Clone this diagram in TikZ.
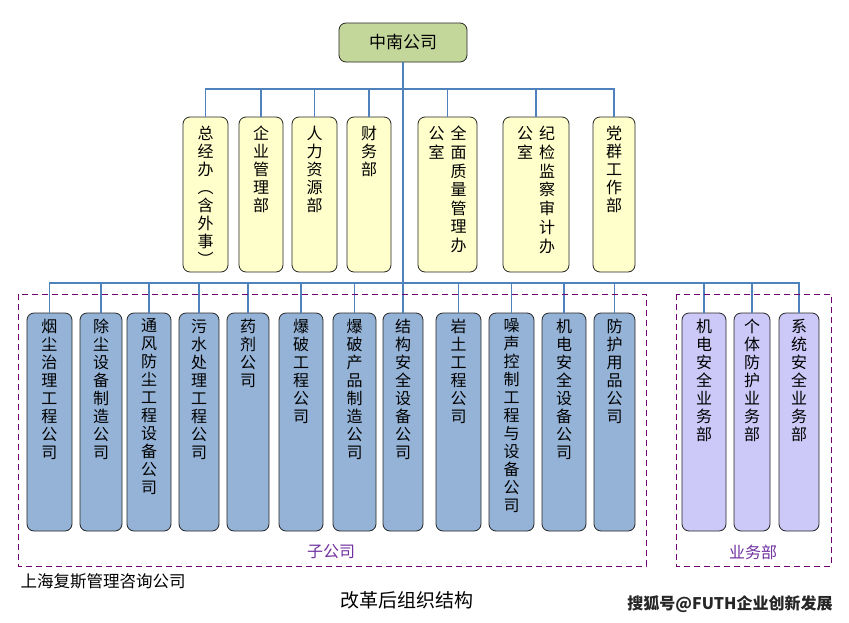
\documentclass[tikz,border=0pt]{standalone}
\usepackage{fontspec}
\newfontfamily\zhfont{Noto Sans CJK SC}
\definecolor{topgreen}{RGB}{196,215,155}
\definecolor{deptyellow}{RGB}{255,255,204}
\definecolor{subblue}{RGB}{149,179,215}
\definecolor{bizlilac}{RGB}{204,200,248}
\definecolor{linkblue}{RGB}{79,129,189}
\definecolor{grouppurple}{RGB}{112,0,112}
\definecolor{labelpurple}{RGB}{112,48,160}

\begin{document}
\begin{tikzpicture}[x = 1pt, y = -1pt, font = \zhfont,
    box/.style = {draw = black!85, line width = 0.8pt, rounded corners = 7pt, inner sep = 0pt},
    dept/.style = {box, fill = deptyellow, minimum height = 155pt},
    sub/.style = {box, fill = subblue, minimum height = 218pt},
    biz/.style = {box, fill = bizlilac, minimum height = 218pt},
    vtext/.style = {anchor = north, inner sep = 0pt, align = center, font = \zhfont\fontsize{16}{18}\selectfont},
    link/.style = {draw = linkblue, line width = 1.2pt},
    group/.style = {draw = grouppurple, line width = 0.9pt, dash pattern = on 6pt off 4pt}]
        \useasboundingbox[fill = white] (0, 0) rectangle (849, 622);

        % top
        \node[box, fill = topgreen, minimum width = 128pt, minimum height = 39pt, font = \zhfont\fontsize{17}{20}\selectfont] (zn) at (403, 42.5) {中南公司};
        \coordinate (tbus) at (403, 89);
        \coordinate (bbus) at (403, 283);

        % departments
        \node[dept, minimum width = 45pt, label = {[vtext, yshift = -9pt]north:总\\经\\办\\︵\\含\\外\\事\\︶}] (d1) at (205.5, 194.5) {};
        \node[dept, minimum width = 44pt, label = {[vtext, yshift = -9pt]north:企\\业\\管\\理\\部}] (d2) at (261, 194.5) {};
        \node[dept, minimum width = 45pt, label = {[vtext, yshift = -9pt]north:人\\力\\资\\源\\部}] (d3) at (314.5, 194.5) {};
        \node[dept, minimum width = 44pt, label = {[vtext, yshift = -9pt]north:财\\务\\部}] (d4) at (369, 194.5) {};
        \node[dept, minimum width = 59pt, label = {[vtext, yshift = -9pt]north:\begin{tabular}{@{}c@{\hspace{6pt}}c@{}}公&全\\室&面\\&质\\&量\\&管\\&理\\&办\end{tabular}}] (d5) at (447.5, 194.5) {};
        \node[dept, minimum width = 66pt, label = {[vtext, yshift = -9pt]north:\begin{tabular}{@{}c@{\hspace{6pt}}c@{}}公&纪\\室&检\\&监\\&察\\&审\\&计\\&办\end{tabular}}] (d6) at (536, 194.5) {};
        \node[dept, minimum width = 42pt, label = {[vtext, yshift = -9pt]north:党\\群\\工\\作\\部}] (d7) at (614, 194.5) {};

        % subsidiaries
        \node[sub, minimum width = 45pt, label = {[vtext, yshift = -6pt]north:烟\\尘\\治\\理\\工\\程\\公\\司}] (c1) at (49.5, 422) {};
        \node[sub, minimum width = 42pt, label = {[vtext, yshift = -6pt]north:除\\尘\\设\\备\\制\\造\\公\\司}] (c2) at (101, 422) {};
        \node[sub, minimum width = 44pt, label = {[vtext, yshift = -6pt]north:通\\风\\防\\尘\\工\\程\\设\\备\\公\\司}] (c3) at (149, 422) {};
        \node[sub, minimum width = 40pt, label = {[vtext, yshift = -6pt]north:污\\水\\处\\理\\工\\程\\公\\司}] (c4) at (199, 422) {};
        \node[sub, minimum width = 42pt, label = {[vtext, yshift = -6pt]north:药\\剂\\公\\司}] (c5) at (248, 422) {};
        \node[sub, minimum width = 44pt, label = {[vtext, yshift = -6pt]north:爆\\破\\工\\程\\公\\司}] (c6) at (301, 422) {};
        \node[sub, minimum width = 43pt, label = {[vtext, yshift = -6pt]north:爆\\破\\产\\品\\制\\造\\公\\司}] (c7) at (354.5, 422) {};
        \node[sub, minimum width = 40pt, label = {[vtext, yshift = -6pt]north:结\\构\\安\\全\\设\\备\\公\\司}] (c8) at (403, 422) {};
        \node[sub, minimum width = 45pt, label = {[vtext, yshift = -6pt]north:岩\\土\\工\\程\\公\\司}] (c9) at (458.5, 422) {};
        \node[sub, minimum width = 45pt, label = {[vtext, yshift = -6pt]north:噪\\声\\控\\制\\工\\程\\与\\设\\备\\公\\司}] (c10) at (511.5, 422) {};
        \node[sub, minimum width = 44pt, label = {[vtext, yshift = -6pt]north:机\\电\\安\\全\\设\\备\\公\\司}] (c11) at (564, 422) {};
        \node[sub, minimum width = 41pt, label = {[vtext, yshift = -6pt]north:防\\护\\用\\品\\公\\司}] (c12) at (614.5, 422) {};

        % business units
        \node[biz, minimum width = 44pt, label = {[vtext, yshift = -6pt]north:机\\电\\安\\全\\业\\务\\部}] (y1) at (704, 422) {};
        \node[biz, minimum width = 36pt, label = {[vtext, yshift = -6pt]north:个\\体\\防\\护\\业\\务\\部}] (y2) at (752, 422) {};
        \node[biz, minimum width = 40pt, label = {[vtext, yshift = -6pt]north:系\\统\\安\\全\\业\\务\\部}] (y3) at (799, 422) {};

        % links
        \draw[link] (zn.south) -- (bbus);
        \draw[link] (d1.north) |- (tbus);
        \draw[link] (d2.north) |- (tbus);
        \draw[link] (d3.north) |- (tbus);
        \draw[link] (d4.north) |- (tbus);
        \draw[link] (d5.north) |- (tbus);
        \draw[link] (d6.north) |- (tbus);
        \draw[link] (d7.north) |- (tbus);
        \draw[link] (c1.north) |- (bbus);
        \draw[link] (c2.north) |- (bbus);
        \draw[link] (c3.north) |- (bbus);
        \draw[link] (c4.north) |- (bbus);
        \draw[link] (c5.north) |- (bbus);
        \draw[link] (c6.north) |- (bbus);
        \draw[link] (c7.north) |- (bbus);
        \draw[link] (c8.north) |- (bbus);
        \draw[link] (c9.north) |- (bbus);
        \draw[link] (c10.north) |- (bbus);
        \draw[link] (c11.north) |- (bbus);
        \draw[link] (c12.north) |- (bbus);
        \draw[link] (y1.north) |- (bbus);
        \draw[link] (y2.north) |- (bbus);
        \draw[link] (y3.north) |- (bbus);

        % groups
        \draw[group] (18, 294) rectangle (646, 566);
        \draw[group] (676, 294) rectangle (831, 566);
        \node[text = labelpurple, font = \zhfont\fontsize{16}{18}\selectfont] (zgs) at (331, 552) {子公司};
        \node[text = labelpurple, font = \zhfont\fontsize{16}{18}\selectfont] (ywb) at (753, 552) {业务部};

        % captions
        \node[font = \zhfont\fontsize{16.5}{18}\selectfont] (firm) at (103, 581) {上海复斯管理咨询公司};
        \node[font = \zhfont\fontsize{19}{22}\selectfont] (cap) at (407, 600) {改革后组织结构};
        \node[text = black!85, font = \zhfont\bfseries\fontsize{16}{18}\selectfont] (wm) at (730, 604) {搜狐号@FUTH企业创新发展};
    \end{tikzpicture}
\end{document}
